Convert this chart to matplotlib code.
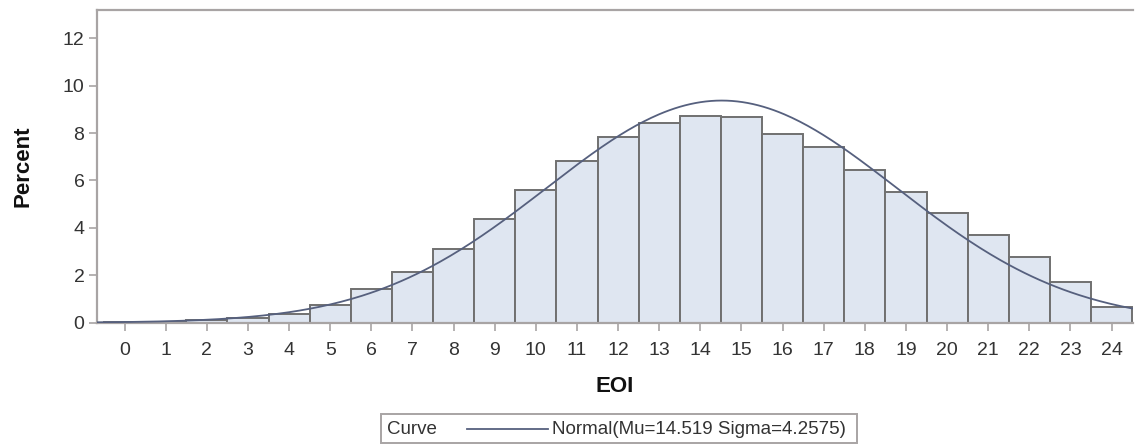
import numpy as np
import matplotlib
matplotlib.use("Agg")
import matplotlib.pyplot as plt
from matplotlib.patches import Rectangle
from matplotlib.lines import Line2D

plt.rcParams['font.family'] = ['Liberation Sans', 'DejaVu Sans']

# Data
eoi = list(range(0, 25))
percent = [0.04, 0.05, 0.10, 0.18, 0.37, 0.76, 1.42, 2.13, 3.11, 4.38, 5.60, 6.80,
           7.83, 8.44, 8.72, 8.68, 7.95, 7.41, 6.42, 5.50, 4.63, 3.72, 2.79, 1.70, 0.68]
mu = 14.519
sigma = 4.2575
yticks = [0, 2, 4, 6, 8, 10, 12]

fig = plt.figure(figsize=(11.36, 4.45), dpi=100)
W, H = 1136, 445
ax = fig.add_axes([97 / W, 1 - 322.7 / H, (1133 - 97) / W, (322.7 - 10) / H])

bar_face = '#dfe6f1'
bar_edge = '#707070'
curve_col = '#56607e'
frame_col = '#a8a4a4'
text_col = '#333333'

ax.bar(eoi, percent, width=1.0, color=bar_face, edgecolor=bar_edge, linewidth=1.4, zorder=2)

xs = np.linspace(-0.7, 24.6, 400)
ys = 100.0 / (sigma * np.sqrt(2 * np.pi)) * np.exp(-0.5 * ((xs - mu) / sigma) ** 2)
ax.plot(xs, ys, color=curve_col, linewidth=1.3, zorder=3)

ax.set_xlim(-0.67, 24.52)
ax.set_ylim(0, 13.19)
ax.set_xticks(eoi)
ax.set_yticks(yticks)
ax.tick_params(axis='both', colors=frame_col, labelcolor=text_col, labelsize=14,
               length=6, width=1.2)
ax.tick_params(axis='x', pad=8)
ax.tick_params(axis='y', pad=3)

for s in ['left', 'top', 'bottom']:
    ax.spines[s].set_color(frame_col)
    ax.spines[s].set_linewidth(1.6)
ax.spines['right'].set_visible(False)

ax.set_xlabel('EOI', fontsize=16, fontweight='bold', color='#111111')
ax.xaxis.set_label_coords(0.5, 1 - (387 - 10) / (322.7 - 10), transform=ax.transAxes)
ax.xaxis.label.set_va('center')
ax.set_ylabel('Percent', fontsize=16, fontweight='bold', color='#111111')
ax.yaxis.set_label_coords(23 / W, 1 - 166 / H, transform=fig.transFigure)
ax.yaxis.label.set_va('center')

# Legend box (manual)
lx0, lx1, ly0, ly1 = 381, 857, 414, 443
fig.patches.append(Rectangle((lx0 / W, 1 - ly1 / H), (lx1 - lx0) / W, (ly1 - ly0) / H,
                             transform=fig.transFigure, facecolor='white',
                             edgecolor=frame_col, linewidth=1.4))
yc = 1 - 429 / H
fig.text(387 / W, yc, 'Curve', fontsize=13.5, color=text_col, va='center', ha='left')
fig.lines.append(Line2D([467 / W, 548 / W], [yc, yc], transform=fig.transFigure,
                        color=curve_col, linewidth=1.3))
fig.text(552 / W, yc, 'Normal(Mu=%.3f Sigma=%.4f)' % (mu, sigma), fontsize=13.5,
         color=text_col, va='center', ha='left')

fig.savefig('out.png', dpi=100)
